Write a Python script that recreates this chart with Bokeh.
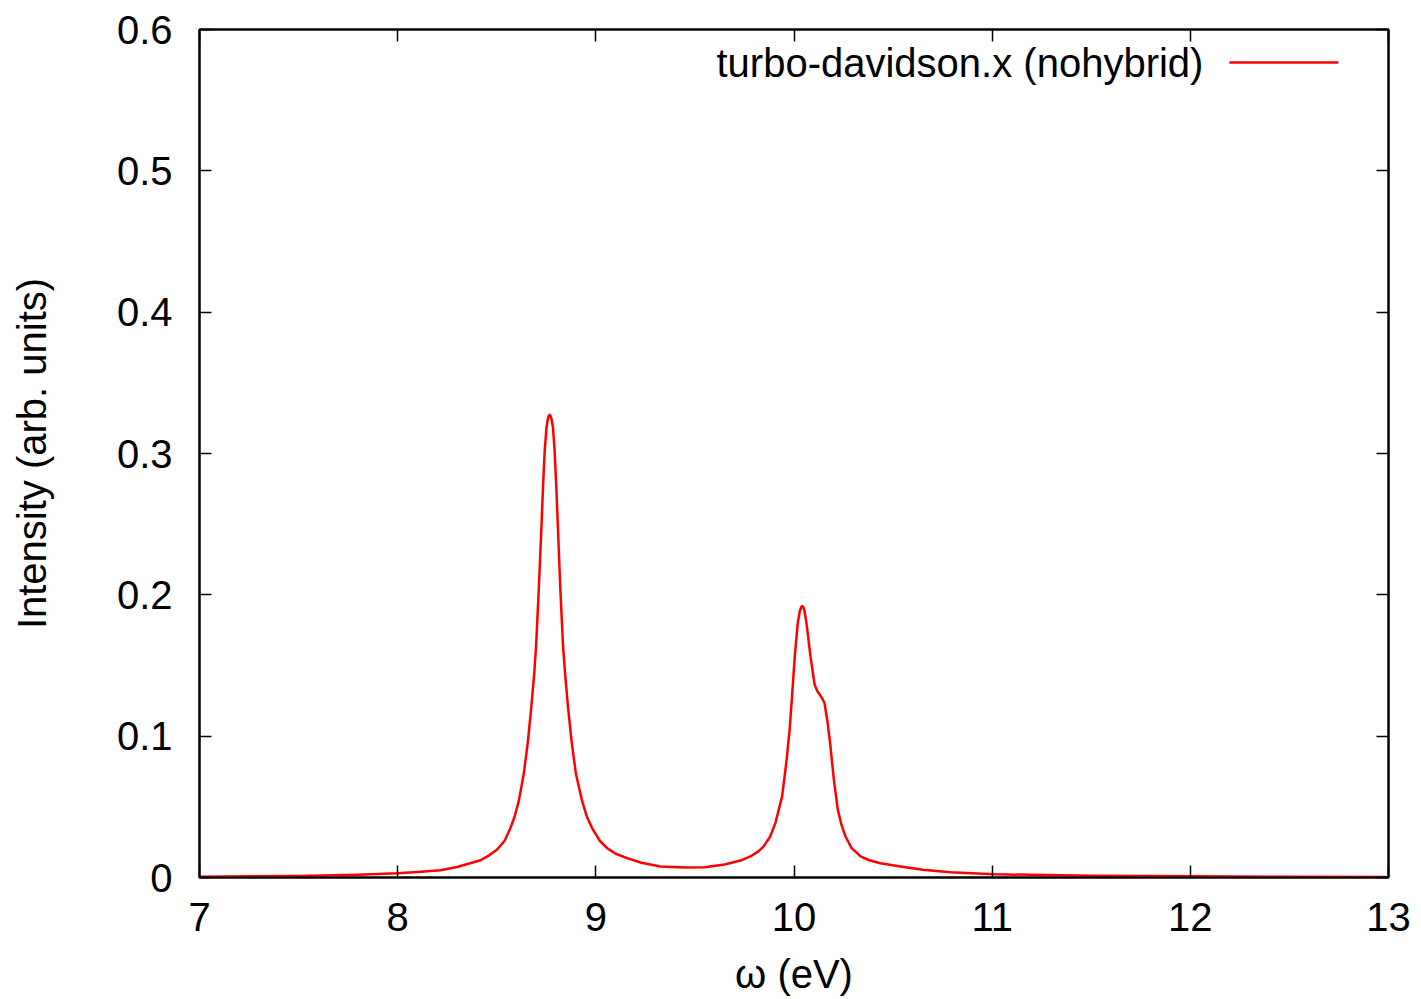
from bokeh.plotting import figure
from bokeh.models import LinearAxis, Label, FixedTicker, ColumnDataSource, CustomJSTickFormatter
from bokeh.embed import file_html
from bokeh.resources import INLINE

# Spectrum
omega = [7.0, 7.5, 7.8, 8.0, 8.1, 8.216, 8.30, 8.418, 8.46, 8.502, 8.54, 8.569, 8.59,
         8.611, 8.636, 8.657, 8.674, 8.689, 8.699, 8.706, 8.713, 8.724, 8.734, 8.742,
         8.751, 8.757, 8.762, 8.767, 8.772, 8.777, 8.784, 8.792, 8.800, 8.810, 8.820,
         8.827, 8.834, 8.845, 8.860, 8.878, 8.900, 8.931, 8.955, 8.981, 9.02, 9.057, 9.10,
         9.158, 9.23, 9.326, 9.45, 9.55, 9.65, 9.73, 9.78, 9.82, 9.847, 9.88, 9.906, 9.940,
         9.961, 9.978, 9.990, 10.004, 10.019, 10.029, 10.036, 10.041, 10.047, 10.053,
         10.063, 10.083, 10.104, 10.118, 10.130, 10.142, 10.154, 10.170, 10.184, 10.201,
         10.221, 10.240, 10.260, 10.29, 10.336, 10.38, 10.436, 10.537, 10.65, 10.789,
         11.008, 11.5, 12.0, 12.5, 13.0]
intensity = [0.0006, 0.0011, 0.0019, 0.0030, 0.0039, 0.0052, 0.0074, 0.0122, 0.0155,
             0.0198, 0.026, 0.035, 0.043, 0.054, 0.073, 0.096, 0.120, 0.144, 0.165, 0.186,
             0.207, 0.243, 0.278, 0.302, 0.318, 0.324, 0.3265, 0.3273, 0.3265, 0.324,
             0.318, 0.302, 0.278, 0.243, 0.207, 0.186, 0.165, 0.144, 0.120, 0.096, 0.073,
             0.054, 0.043, 0.035, 0.026, 0.0208, 0.0168, 0.0137, 0.0104, 0.0078, 0.0070,
             0.0072, 0.0092, 0.0120, 0.0149, 0.0185, 0.022, 0.029, 0.0385, 0.0574, 0.081,
             0.1046, 0.128, 0.1566, 0.180, 0.1884, 0.1912, 0.192, 0.1912, 0.1884, 0.180,
             0.1566, 0.1365, 0.1318, 0.1294, 0.1268, 0.1235, 0.1093, 0.0928, 0.0692, 0.048,
             0.037, 0.029, 0.021, 0.0149, 0.0122, 0.0101, 0.0078, 0.0055, 0.0037, 0.0023,
             0.0012, 0.0008, 0.0005, 0.0003]

x_ticks = [7, 8, 9, 10, 11, 12, 13]
y_ticks = [0, 0.1, 0.2, 0.3, 0.4, 0.5, 0.6]
y_tick_labels = {0: "0", 0.1: "0.1", 0.2: "0.2", 0.3: "0.3", 0.4: "0.4", 0.5: "0.5", 0.6: "0.6"}
series_name = "turbo-davidson.x (nohybrid)"
x_label = "ω (eV)"
y_label = "Intensity (arb. units)"

FONT = "Liberation Sans"
FS = "40px"

p = figure(width=1413, height=998, x_range=(7, 13), y_range=(0, 0.6),
           output_backend="svg", toolbar_location=None,
           min_border_left=199, min_border_right=25, min_border_top=29, min_border_bottom=115)
p.xgrid.visible = False
p.ygrid.visible = False
p.outline_line_color = "black"
p.outline_line_width = 2
p.background_fill_color = "white"
p.border_fill_color = "white"


def style_axis(ax):
    ax.axis_line_color = "black"
    ax.axis_line_width = 2
    ax.major_tick_in = 12
    ax.major_tick_out = 0
    ax.major_tick_line_width = 1.5
    ax.minor_tick_line_color = None
    ax.major_label_text_font = FONT
    ax.major_label_text_font_size = FS
    ax.major_label_text_color = "black"
    ax.axis_label_text_font = FONT
    ax.axis_label_text_font_size = FS
    ax.axis_label_text_font_style = "normal"
    ax.axis_label_text_color = "black"


xa = p.xaxis[0]
ya = p.yaxis[0]
style_axis(xa)
style_axis(ya)
xa.ticker = FixedTicker(ticks=x_ticks)
ya.ticker = FixedTicker(ticks=y_ticks)
ya.major_label_overrides = y_tick_labels
xa.axis_label = x_label
ya.axis_label = y_label
xa.major_label_standoff = 25
ya.major_label_standoff = 27
xa.axis_label_standoff = 18
ya.axis_label_standoff = 60

blank = CustomJSTickFormatter(code="return ''")
ra = LinearAxis(ticker=FixedTicker(ticks=y_ticks), formatter=blank)
ta = LinearAxis(ticker=FixedTicker(ticks=x_ticks), formatter=blank)
style_axis(ra)
style_axis(ta)
ra.major_label_standoff = 0
ta.major_label_standoff = 0
p.add_layout(ra, "right")
p.add_layout(ta, "above")

src = ColumnDataSource(dict(x=omega, y=intensity))
p.line("x", "y", source=src, line_color="#ff0000", line_width=2.5, line_join="round")

# legend (gnuplot style: text then line sample)
p.add_layout(Label(x=12.066, y=0.5766, text=series_name, text_align="right",
                   text_baseline="middle", text_font=FONT, text_font_size=FS,
                   text_color="black"))
p.segment(x0=[12.197], y0=[0.5766], x1=[12.747], y1=[0.5766],
          line_color="#ff0000", line_width=2.5)

open("out.html", "w").write(file_html(p, INLINE))
